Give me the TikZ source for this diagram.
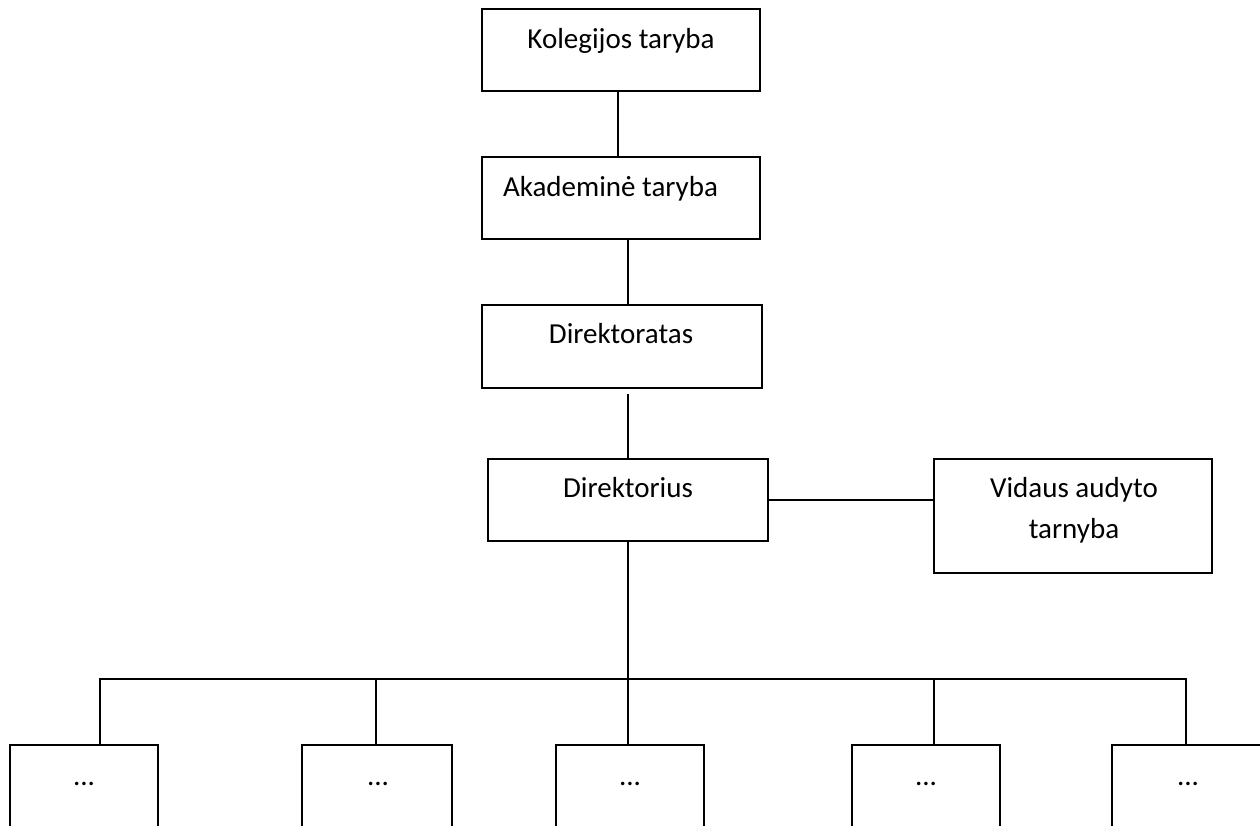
\documentclass[tikz,border=0pt]{standalone}
\usepackage{fontspec}
\setmainfont{Carlito}
\begin{document}
\begin{tikzpicture}[x=1pt,y=-1pt,
  box/.style={draw, line width=2pt, rectangle, inner sep=0pt},
  lbl/.style={anchor=base, inner sep=0pt, font=\fontsize{29}{41}\selectfont},
  wire/.style={line width=2pt}]
\useasboundingbox (0,0) rectangle (1260,825);
\clip (0,0) rectangle (1260,825);

% hierarchy boxes
\node[box, minimum width=278pt, minimum height=82pt] (kol) at (621,50) {};
\node[box, minimum width=278pt, minimum height=82pt] (aka) at (621,198) {};
\node[box, minimum width=280pt, minimum height=83pt] (dirt) at (622,346.5) {};
\node[box, minimum width=280pt, minimum height=82pt] (dir) at (628,500) {};
\node[box, minimum width=278pt, minimum height=114pt] (vat) at (1073,516) {};

% box captions
\node[lbl] (kolT) at (621,48) {Kolegijos taryba};
\node[lbl] (akaT) at (610.5,196) {Akademinė taryba};
\node[lbl] (dirtT) at (621,343) {Direktoratas};
\node[lbl] (dirT) at (628,497) {Direktorius};
\node[lbl] (vatA) at (1074,497) {Vidaus audyto};
\node[lbl] (vatB) at (1074,538) {tarnyba};

% lower units (cut off at the bottom edge)
\node[box, minimum width=148pt, minimum height=90pt] (b1) at (84,790) {};
\node[box, minimum width=150pt, minimum height=90pt] (b2) at (377,790) {};
\node[box, minimum width=148pt, minimum height=90pt] (b3) at (630,790) {};
\node[box, minimum width=148pt, minimum height=90pt] (b4) at (926,790) {};
\node[box, minimum width=152pt, minimum height=90pt] (b5) at (1188,790) {};
\node[lbl] (b1T) at (84,785) {...};
\node[lbl] (b2T) at (378,785) {...};
\node[lbl] (b3T) at (630,785) {...};
\node[lbl] (b4T) at (926,785) {...};
\node[lbl] (b5T) at (1188,785) {...};

% connectors
\draw[wire] ([xshift=-3pt]kol.south) -- ([xshift=-3pt]kol.south |- aka.north);
\draw[wire] (dir.north |- aka.south) -- (dir.north |- dirt.north);
\draw[wire] ([yshift=-5pt]dir.north |- dirt.south) -- (dir.north);
\draw[wire] (dir.east) -- (dir.east -| vat.west);

\coordinate (d1) at (100,679);
\coordinate (d2) at (376,679);
\coordinate (d3) at (628,679);
\coordinate (d4) at (934,679);
\coordinate (d5) at (1186,679);
\draw[wire] (dir.south) -- (d3);
\draw[wire] (d1 |- b1.north) -- (d1) -- (d5) -- (d5 |- b5.north);
\draw[wire] (d2) -- (d2 |- b2.north);
\draw[wire] (d3) -- (d3 |- b3.north);
\draw[wire] (d4) -- (d4 |- b4.north);
\end{tikzpicture}
\end{document}
